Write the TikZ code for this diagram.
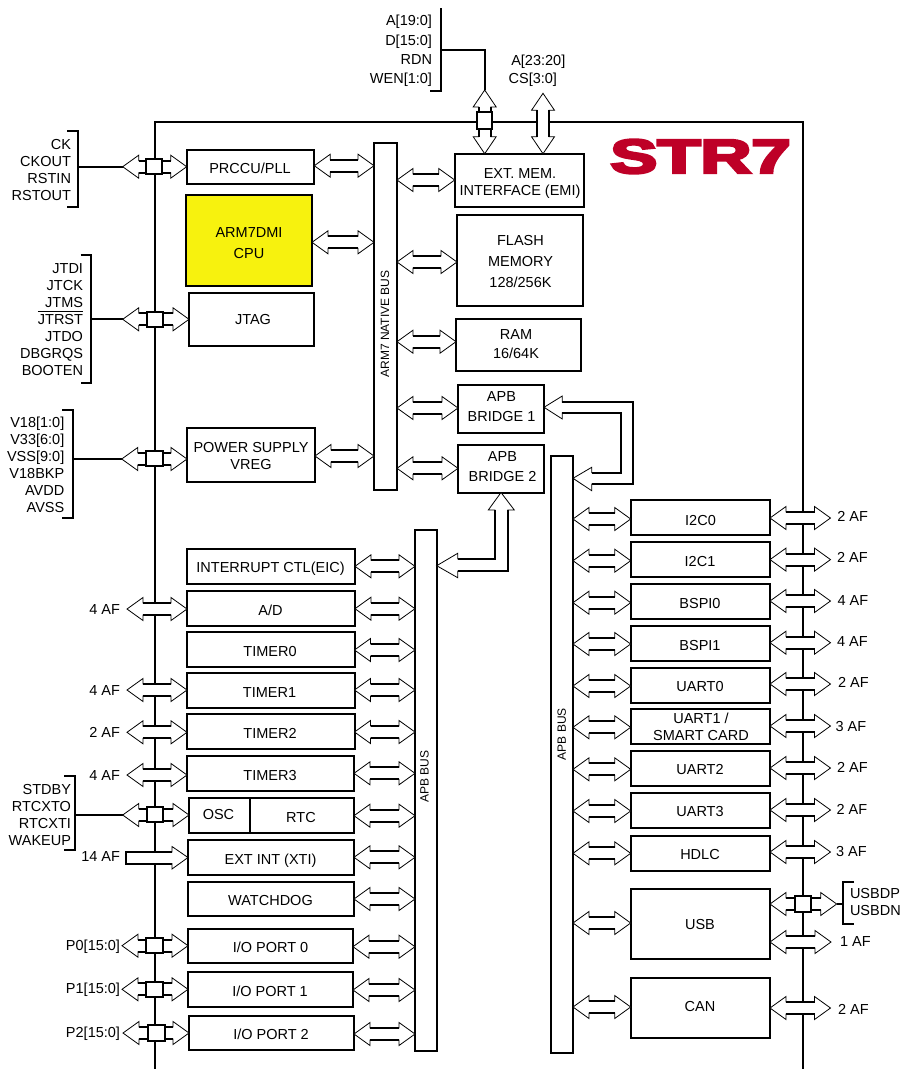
\documentclass[tikz,border=0pt]{standalone}
\usepackage{fontspec}
\setmainfont{Liberation Sans}
\newfontfamily\logofont[FakeBold=5]{Liberation Sans Bold}
\usetikzlibrary{calc}
\definecolor{cpuyellow}{HTML}{F7F20E}
\definecolor{logored}{HTML}{BE0027}
\newlength\jtrstw
\tikzset{
  txtfont/.style={font=\fontsize{14.5}{17}\selectfont},
  blk/.style={draw,line width=2pt,fill=white,rectangle,inner sep=0pt,outer sep=0pt,txtfont},
  sq/.style={draw,line width=2pt,fill=white,rectangle,inner sep=0pt,outer sep=0pt},
  hd/.style={draw=black,fill=white,line width=0.8pt,line join=miter},
  sh/.style={draw=black,line width=2pt},
  wire/.style={draw=black,line width=1.9pt},
  siglab/.style={inner sep=0pt,outer sep=0pt,txtfont,align=right,anchor=east,execute at begin node=\strut,execute at end node=\strut},
  siglabw/.style={inner sep=0pt,outer sep=0pt,txtfont,align=left,anchor=west,execute at begin node=\strut,execute at end node=\strut},
  buslab/.style={inner sep=0pt,outer sep=0pt,rotate=90,font=\fontsize{12}{14}\selectfont},
  logo/.style={inner sep=0pt,outer sep=0pt,text=logored,font=\logofont\fontsize{48}{48}\selectfont},
}
% block: [options]{name}{x1}{y1}{x2}{y2}{text x}{text y}{text}
\newcommand\Blk[9][]{%
  \pgfmathsetmacro\bcx{(#3+#5)/2}%
  \pgfmathsetmacro\bcy{(#4+#6)/2}%
  \pgfmathsetmacro\bw{#5-#3}%
  \pgfmathsetmacro\bh{#6-#4}%
  \pgfmathsetmacro\bdx{2*(#7-\bcx)}%
  \pgfmathsetmacro\bR{-(#8-\bcy)-5.4}%
  \node[blk,#1,minimum width=\bw pt,minimum height=\bh pt] (#2) at (\bcx,\bcy)
    {\hspace*{\bdx pt}\raisebox{\bR pt}[0pt][0pt]{\begin{tabular}{@{}c@{}}#9\end{tabular}}};%
}
% horizontal double arrow from #1 to #2 at height #3
\newcommand\HDA[3]{%
  \path[hd] let \p1=(#1),\p2=(#2) in (\x1,-#3pt) -- ++(16pt,11.5pt) -- ++(0pt,-5.5pt)
    -- ({\x2-16pt},{-#3pt+6pt}) -- ++(0pt,5.5pt) -- (\x2,-#3pt) -- ++(-16pt,-11.5pt) -- ++(0pt,5.5pt)
    -- ({\x1+16pt},{-#3pt-6pt}) -- ++(0pt,-5.5pt) -- cycle;
  \path[sh] let \p1=(#1),\p2=(#2) in ({\x1+16pt},{-#3pt+6pt}) -- ({\x2-16pt},{-#3pt+6pt})
    ({\x1+16pt},{-#3pt-6pt}) -- ({\x2-16pt},{-#3pt-6pt});%
}
% vertical double arrow from #1 (top) to #2 (bottom) at x #3
\newcommand\VDA[3]{%
  \path[hd] let \p1=(#1),\p2=(#2) in (#3pt,\y1) -- ++(11.5pt,-17pt) -- ++(-5.5pt,0pt)
    -- ({#3pt+6pt},{\y2+17pt}) -- ++(5.5pt,0pt) -- (#3pt,\y2) -- ++(-11.5pt,17pt) -- ++(5.5pt,0pt)
    -- ({#3pt-6pt},{\y1-17pt}) -- ++(-5.5pt,0pt) -- cycle;
  \path[sh] let \p1=(#1),\p2=(#2) in ({#3pt+6pt},{\y1-17pt}) -- ({#3pt+6pt},{\y2+17pt})
    ({#3pt-6pt},{\y1-17pt}) -- ({#3pt-6pt},{\y2+17pt});%
}
% square on a bus: {name}{x1}{y1}{x2}{y2}
\newcommand\Sq[5]{%
  \pgfmathsetmacro\bcx{(#2+#4)/2}\pgfmathsetmacro\bcy{(#3+#5)/2}%
  \pgfmathsetmacro\bw{#4-#2}\pgfmathsetmacro\bh{#5-#3}%
  \node[sq,minimum width=\bw pt,minimum height=\bh pt] (#1) at (\bcx,\bcy) {};%
}
\begin{document}
\begin{tikzpicture}[x=1pt,y=-1pt]
\useasboundingbox (0,0) rectangle (902,1069);
% chip frame
\draw[wire,line width=2pt] (155,1069) -- (155,121.5) -- (803,121.5) -- (803,1069);
% logo
\node[logo] (logo) at (700.5,156.5) {\scalebox{1.47}[1]{STR7}};
% native side
\Blk{prccu}{186.7}{150}{314.3}{184}{250}{168.5}{PRCCU/PLL}
\Blk[fill=cpuyellow]{cpu}{186}{195}{312}{286}{249}{242.7}{ARM7DMI\\[4.3pt]CPU}
\Blk{jtag}{189}{293}{314}{346}{253}{319.3}{JTAG}
\Blk{pwr}{187}{428}{315}{482}{251}{455.7}{POWER SUPPLY\\VREG}
\Blk{nbus}{374}{142.7}{397}{490}{385}{316}{}
\node[buslab] (nbl) at (385,324) {ARM7 NATIVE BUS};
\Blk{emi}{454.7}{153.7}{584}{206.7}{520}{181.7}{EXT. MEM.\\INTERFACE (EMI)}
\Blk{flash}{457}{214.7}{583}{306}{520.5}{261.7}{FLASH\\[4pt]MEMORY\\[4pt]128/256K}
\Blk{ram}{456}{318.7}{581}{371}{516}{344}{RAM\\[2.5pt]16/64K}
\Blk{br1}{458}{384.7}{544}{433}{501.5}{406.3}{APB\\[2.5pt]BRIDGE 1}
\Blk{br2}{458}{445}{544}{492.5}{502.5}{466.3}{APB\\[2.5pt]BRIDGE 2}
% buses
\Blk{lbus}{415}{530}{436.7}{1050.7}{426}{700}{}
\node[buslab] (lbl) at (424.5,776.7) {APB BUS};
\Blk{rbus}{551}{456}{573}{1053}{562}{700}{}
\node[buslab] (rbl) at (561.7,734) {APB BUS};
% left peripherals
\Blk{eic}{187}{549}{355}{584}{270.5}{567.7}{INTERRUPT CTL(EIC)}
\Blk{ad}{187}{591}{355}{626}{270.5}{610}{A/D}
\Blk{t0}{187}{632}{354.5}{667}{270}{651.5}{TIMER0}
\Blk{t1}{187}{673}{354.5}{708}{269.5}{692}{TIMER1}
\Blk{t2}{187}{714}{354.5}{749}{270}{733.5}{TIMER2}
\Blk{t3}{187}{756}{354}{791}{270}{775}{TIMER3}
\Blk{osc}{189}{798}{250}{833}{218.5}{814.3}{OSC}
\Blk{rtc}{250}{798}{354}{833}{301}{817}{RTC}
\Blk{xti}{188}{840}{354}{875}{270.5}{859}{EXT INT (XTI)}
\Blk{wdg}{188}{882}{354}{916}{270.5}{900.7}{WATCHDOG}
\Blk{io0}{188}{929}{353}{963}{270.5}{947}{I/O PORT 0}
\Blk{io1}{188}{972}{353}{1007}{270}{991}{I/O PORT 1}
\Blk{io2}{189}{1016}{354}{1050}{271}{1034.7}{I/O PORT 2}
% right peripherals
\Blk{i2c0}{630.7}{500}{770}{534.7}{700.5}{520}{I2C0}
\Blk{i2c1}{630.7}{542}{770}{577}{700}{561}{I2C1}
\Blk{spi0}{630.7}{584}{770}{619}{700}{603}{BSPI0}
\Blk{spi1}{630.7}{626}{770}{661}{700}{645}{BSPI1}
\Blk{ua0}{630.7}{668}{770}{702.5}{700}{686.7}{UART0}
\Blk{ua1}{630.7}{709}{770}{744}{701}{726.5}{UART1 /\\SMART CARD}
\Blk{ua2}{630.7}{751}{770}{786}{700}{769.7}{UART2}
\Blk{ua3}{630.7}{793}{770}{828}{700}{811.7}{UART3}
\Blk{hdlc}{630.7}{836}{770}{871}{700}{854}{HDLC}
\Blk{usb}{630.7}{889}{770}{959}{700}{924}{USB}
\Blk{can}{630.7}{978}{770}{1038}{700}{1006.5}{CAN}
% free ends
\coordinate (ckin) at (122.7,166.7);
\coordinate (jtin) at (122.7,319.3);
\coordinate (pwin) at (121.7,459);
\coordinate (rtin) at (122.7,815);
\coordinate (p0in) at (122,945.7);
\coordinate (p1in) at (122,989.3);
\coordinate (p2in) at (123,1033);
\coordinate (ad0) at (127,609);
\coordinate (t10) at (127,690);
\coordinate (t20) at (127,732.3);
\coordinate (t30) at (127,775);
\coordinate (xt0) at (126,858);
\coordinate (usout) at (836.7,904);
\coordinate (af1) at (830.5,518);
\coordinate (af2) at (830.5,559.6);
\coordinate (af3) at (830.5,601);
\coordinate (af4) at (830.5,642.7);
\coordinate (af5) at (830.5,684);
\coordinate (af6) at (830.5,726);
\coordinate (af7) at (830.5,768);
\coordinate (af8) at (830.5,810);
\coordinate (af9) at (830.5,852);
\coordinate (af10) at (831,942);
\coordinate (af11) at (830.5,1008);
\coordinate (emitop) at (484.7,90);
\coordinate (cstop) at (543,93.3);
% bracket junctions and brackets
\coordinate (ckbr) at (78,166.7);
\coordinate (jtbr) at (91,319.3);
\coordinate (pwbr) at (72.7,459);
\coordinate (rtbr) at (75,815);
\coordinate (usbr) at (842.7,904);
\coordinate (embr) at (441,50);
\draw[wire] (67,131) -- (78,131) -- (78,207) -- (67,207);
\draw[wire] (80.7,255) -- (91,255) -- (91,383) -- (80.7,383);
\draw[wire] (62.3,410) -- (72.7,410) -- (72.7,517.7) -- (62.3,517.7);
\draw[wire] (64,776) -- (75,776) -- (75,850) -- (64,850);
\draw[wire] (854,881.7) -- (842.7,881.7) -- (842.7,924) -- (854,924);
\draw[wire] (430,91) -- (441,91) -- (441,8);
\draw[wire] (ckbr) -- (ckin);
\draw[wire] (jtbr) -- (jtin);
\draw[wire] (pwbr) -- (pwin);
\draw[wire] (rtbr) -- (rtin);
\draw[wire] (usout) -- (usbr);
\draw[wire] (embr) -| (emitop);
% arrows to the native bus
\HDA{prccu.east}{nbus.west}{165.7}
\HDA{cpu.east}{nbus.west}{242.3}
\HDA{pwr.east}{nbus.west}{456}
\HDA{nbus.east}{emi.west}{180}
\HDA{nbus.east}{flash.west}{262}
\HDA{nbus.east}{ram.west}{341.7}
\HDA{nbus.east}{br1.west}{408}
\HDA{nbus.east}{br2.west}{468.3}
% arrows to the left APB bus
\HDA{eic.east}{lbus.west}{566.3}
\HDA{ad.east}{lbus.west}{608.7}
\HDA{t0.east}{lbus.west}{650}
\HDA{t1.east}{lbus.west}{690}
\HDA{t2.east}{lbus.west}{732}
\HDA{t3.east}{lbus.west}{773.3}
\HDA{rtc.east}{lbus.west}{815.7}
\HDA{xti.east}{lbus.west}{857.3}
\HDA{wdg.east}{lbus.west}{899}
\HDA{io0.east}{lbus.west}{946.7}
\HDA{io1.east}{lbus.west}{990}
\HDA{io2.east}{lbus.west}{1034}
% arrows to the right APB bus
\HDA{rbus.east}{i2c0.west}{519}
\HDA{rbus.east}{i2c1.west}{560.7}
\HDA{rbus.east}{spi0.west}{602.7}
\HDA{rbus.east}{spi1.west}{644}
\HDA{rbus.east}{ua0.west}{686}
\HDA{rbus.east}{ua1.west}{727.3}
\HDA{rbus.east}{ua2.west}{769.3}
\HDA{rbus.east}{ua3.west}{811}
\HDA{rbus.east}{hdlc.west}{853.3}
\HDA{rbus.east}{usb.west}{923}
\HDA{rbus.east}{can.west}{1007}
% pads on the left frame
\HDA{ad0}{ad.west}{609}
\HDA{t10}{t1.west}{690}
\HDA{t20}{t2.west}{732.3}
\HDA{t30}{t3.west}{775}
\HDA{ckin}{prccu.west}{166.7}
\HDA{jtin}{jtag.west}{319.3}
\HDA{pwin}{pwr.west}{459}
\HDA{rtin}{osc.west}{815}
\HDA{p0in}{io0.west}{945.7}
\HDA{p1in}{io1.west}{989.3}
\HDA{p2in}{io2.west}{1033}
\Sq{sqck}{146}{159}{162}{174}
\Sq{sqjt}{146.5}{312}{163}{327}
\Sq{sqpw}{146}{451}{163}{466}
\Sq{sqrt}{147}{807}{163.3}{821.7}
\Sq{sqp0}{146}{938}{163}{952.7}
\Sq{sqp1}{146}{982}{163}{997}
\Sq{sqp2}{148}{1025}{164.7}{1041}
% single-headed EXT INT arrow
\path[hd] let \p1=(xt0),\p2=(xti.west) in ({\x2-16pt},-852pt) -- ++(0pt,5.5pt) -- (\x2,-857.5pt) -- ++(-16pt,-11.5pt) -- ++(0pt,5.5pt) -- (\x1,-864pt) -- (\x1,-852pt) -- cycle;
\path[sh] let \p1=(xt0),\p2=(xti.west) in ({\x2-16pt},-852pt) -- (\x1,-852pt) -- (\x1,-864pt) -- ({\x2-16pt},-864pt);
% pads on the right frame
\HDA{i2c0.east}{af1}{518}
\HDA{i2c1.east}{af2}{559.6}
\HDA{spi0.east}{af3}{601}
\HDA{spi1.east}{af4}{642.7}
\HDA{ua0.east}{af5}{684}
\HDA{ua1.east}{af6}{726}
\HDA{ua2.east}{af7}{768}
\HDA{ua3.east}{af8}{810}
\HDA{hdlc.east}{af9}{852}
\HDA{usb.east}{af10}{942}
\HDA{can.east}{af11}{1008}
\HDA{usb.east}{usout}{904}
\Sq{squs}{795}{896}{811}{911.7}
% external memory arrows
\VDA{emitop}{emi.north}{484.7}
\Sq{sqem}{477}{112.3}{492}{129}
\VDA{cstop}{emi.north}{543}
% bridge 1 to right APB bus
\path[hd] let \p1=(br1.east),\p2=(rbus.east) in (\x1,-407.3pt) -- (562.3,396) -- (562.3,402.3) -- (632.7,402.3) -- (632.7,484) -- (591.7,484) -- (591.7,490.7) -- (\x2,-478.3pt) -- (591.7,467.3) -- (591.7,472.7) -- (621,472.7) -- (621,412.7) -- (562.3,412.7) -- (562.3,419) -- cycle;
\path[sh] (562.3,402.3) -- (632.7,402.3) -- (632.7,484) -- (591.7,484) (591.7,472.7) -- (621,472.7) -- (621,412.7) -- (562.3,412.7);
% bridge 2 to left APB bus
\path[hd] let \p1=(br2.south),\p2=(lbus.east) in (\x1,-492.5pt) -- (514.3,510) -- (507.7,510) -- (507.7,571) -- (457.7,571) -- (457.7,577.7) -- (\x2,-565.7pt) -- (457.7,553.3) -- (457.7,559) -- (495,559) -- (495,510) -- (488.3,510) -- cycle;
\path[sh] (507.7,510) -- (507.7,571) -- (457.7,571) (457.7,559) -- (495,559) -- (495,510);
% labels
\node[siglab] (lck) at (71,172) {CK\\CKOUT\\RSTIN\\RSTOUT};
\node[siglab] (ljt) at (83,322) {JTDI\\JTCK\\JTMS\\\settowidth\jtrstw{JTRST}\rlap{\raisebox{13pt}[0pt][0pt]{\rule{\jtrstw}{0.9pt}}}JTRST\\JTDO\\DBGRQS\\BOOTEN};
\node[siglab] (lpw) at (64.3,467.5) {V18[1:0]\\V33[6:0]\\VSS[9:0]\\V18BKP\\AVDD\\AVSS};
\node[siglab] (lrt) at (71,817) {STDBY\\RTCXTO\\RTCXTI\\WAKEUP};
\node[siglab] (lem) at (432,52) {A[19:0]\\[2.3pt]D[15:0]\\[2.3pt]RDN\\[2.3pt]WEN[1:0]};
\node[siglab] (la2) at (565.3,62.5) {A[23:20]};
\node[siglab] (lcs) at (557,80.1) {CS[3:0]};
\node[siglab] (lf1) at (120,611.1) {4 AF};
\node[siglab] (lf2) at (120,691.8) {4 AF};
\node[siglab] (lf3) at (120,733.8) {2 AF};
\node[siglab] (lf4) at (120,776.8) {4 AF};
\node[siglab] (lf5) at (120,858.5) {14 AF};
\node[siglab] (lp0) at (120,946.8) {P0[15:0]};
\node[siglab] (lp1) at (120,990.5) {P1[15:0]};
\node[siglab] (lp2) at (120,1033.8) {P2[15:0]};
\node[siglabw] (rf1) at (837.3,518.5) {2 AF};
\node[siglabw] (rf2) at (837,559.1) {2 AF};
\node[siglabw] (rf3) at (837.5,601.8) {4 AF};
\node[siglabw] (rf4) at (837,642.8) {4 AF};
\node[siglabw] (rf5) at (838,684.5) {2 AF};
\node[siglabw] (rf6) at (835.5,727.8) {3 AF};
\node[siglabw] (rf7) at (837,769.5) {2 AF};
\node[siglabw] (rf8) at (836.5,810.8) {2 AF};
\node[siglabw] (rf9) at (836,853.1) {3 AF};
\node[siglabw] (rf10) at (840,942.8) {1 AF};
\node[siglabw] (rf11) at (838,1011.1) {2 AF};
\node[siglabw] (lus) at (850,904.5) {USBDP\\USBDN};
\end{tikzpicture}
\end{document}
